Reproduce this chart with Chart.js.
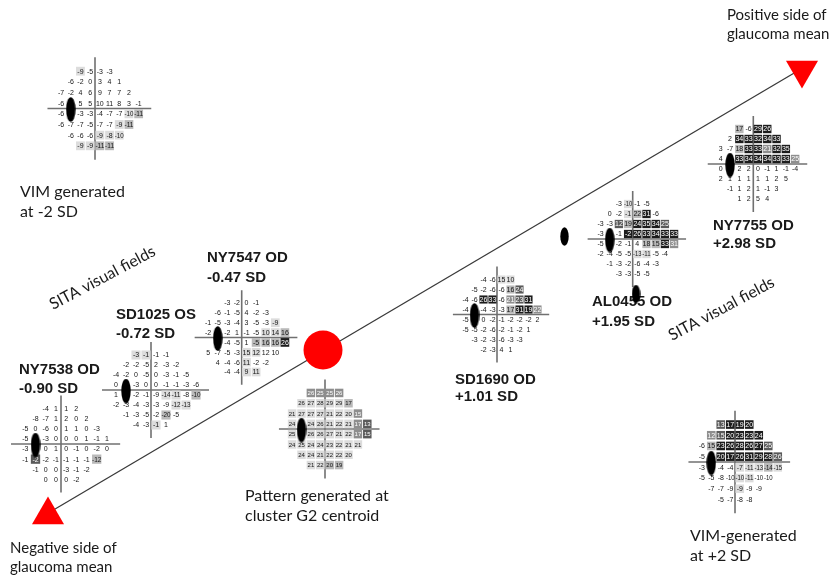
<!DOCTYPE html>
<html>
<head>
<meta charset="utf-8">
<script src="https://cdn.jsdelivr.net/npm/chart.js@4/dist/chart.umd.min.js"></script>
<style>
  html, body { margin: 0; padding: 0; background: #ffffff; }
  canvas { display: block; }
</style>
</head>
<body>
<canvas id="chart" width="832" height="577"></canvas>
<script>
// 24-2 test pattern: first column of each of the 8 rows
const ROW_START = [2, 1, 0, 0, 0, 0, 1, 2];

// Total deviation values (dB) per field; null = blind spot / not shown
const vimMinus2Values = [
  [-9, -5, -3, -3],
  [-6, -2, 0, 3, 4, 1],
  [-7, -2, 4, 6, 9, 7, 7, 2],
  [-6, null, 5, 5, 10, 11, 8, 3, -1],
  [-6, null, -3, -3, -4, -7, -7, -10, -11],
  [-6, -7, -7, -5, -7, -7, -9, -11],
  [-6, -6, -6, -9, -8, -10],
  [-9, -9, -11, -11]
];
const vimMinus2Prob = ['1000', '000000', '00000000', '000000000', '000000012', '00000012', '000111', '1122'];

const ny7538Values = [
  [-4, 1, 1, 2],
  [-8, -7, 1, 2, 0, 2],
  [-5, 0, -6, 0, 1, 1, 0, -3],
  [-5, null, -3, 0, 0, 0, 1, -1, 1],
  [-3, null, 0, 1, 0, -1, 0, -2, 0],
  [-1, -2, -2, -1, -1, -1, -1, -12],
  [-1, 0, 0, -3, -1, -2],
  [0, 0, 0, -2]
];
const ny7538Prob = ['0000', '000000', '00000000', '000000000', '000000000', '04000002', '000000', '0000'];

const sd1025Values = [
  [-3, -1, -1, -1],
  [-2, -2, -5, 2, -3, -2],
  [-4, -2, 0, -5, 0, -3, -1, -5],
  [0, null, -3, 0, 0, -1, -1, -3, -6],
  [1, null, -2, -1, -9, -14, -11, -8, -10],
  [-2, -3, -4, -3, -3, -9, -12, -13],
  [-1, -3, -5, -2, -20, -5],
  [-4, -3, -1, 1]
];
const sd1025Prob = ['1100', '000000', '00000000', '000000000', '000001102', '00000011', '000020', '0010'];

const ny7547Values = [
  [-3, -2, 0, -1],
  [-6, -1, -5, 4, -2, -3],
  [-1, -5, -3, -4, 3, -5, -3, -9],
  [-2, null, -2, 1, -1, -5, 10, 14, 16],
  [null, null, -4, -5, 1, -5, 16, 16, 26],
  [5, -7, -5, -3, 15, 12, 12, 10],
  [4, -4, -6, 11, -2, -2],
  [-4, -4, 9, 11]
];
const ny7547Prob = ['0000', '000000', '00000001', '000000112', '000002225', '00001100', '000100', '0011'];

const g2CentroidValues = [
  [26, 25, 25, 26],
  [26, 27, 28, 29, 29, 17],
  [21, 27, 27, 27, 21, 22, 20, 15],
  [24, null, 24, 26, 21, 22, 21, 17, 13],
  [25, null, 26, 26, 27, 21, 22, 17, 15],
  [24, 25, 24, 24, 23, 22, 21, 21],
  [24, 24, 21, 22, 22, 20],
  [21, 22, 20, 19]
];
const g2CentroidProb = ['3333', '111112', '11111113', '101111134', '101111134', '11111111', '111111', '1122'];

const sd1690Values = [
  [-4, -6, 15, 10],
  [-5, -2, -6, -6, 16, 24],
  [-4, -6, 26, 33, -6, 21, 23, 31],
  [-4, null, -4, -3, -3, 17, 31, 19, 22],
  [-5, null, 0, -2, -1, -2, -2, -2, 2],
  [-5, -5, -2, -6, -2, -1, -2, 1],
  [-3, -2, -3, -6, -3, -3],
  [-2, -3, 4, 1]
];
const sd1690Prob = ['0011', '000024', '00550345', '000002553', '000000000', '00000000', '000000', '0000'];

const al0455Values = [
  [-3, -10, -1, -5],
  [0, -2, -1, 22, 31, -6],
  [-3, -3, 12, 19, 24, 35, 34, 25],
  [-3, null, -1, -2, 26, 33, 34, 33, 33],
  [-5, null, -2, -1, 4, 18, 15, 33, 31],
  [-2, -4, -5, -5, -13, -11, -5, -4],
  [-1, -3, -2, -6, -4, -3],
  [-3, -3, -5, -5]
];
const al0455Prob = ['0100', '001250', '00425554', '000555555', '000002253', '00001100', '000000', '0000'];

const ny7755Values = [
  [17, -6, 29, 26],
  [2, 34, 33, 32, 34, 33],
  [3, -7, 18, 33, 33, 21, 32, 35],
  [4, null, 33, 34, 34, 34, 33, 33, 25],
  [0, null, 2, 2, 0, -1, 1, -1, -4],
  [2, 1, 1, 1, 1, 1, 2, 5],
  [-1, 1, 2, 1, -1, 3],
  [1, 2, 5, 4]
];
const ny7755Prob = ['2055', '055555', '00255355', '005555553', '000000000', '00000000', '000000', '0000'];

const vimPlus2Values = [
  [13, 17, 19, 20],
  [12, 15, 20, 23, 23, 24],
  [-6, 15, 23, 26, 28, 26, 27, 25],
  [-5, null, 20, 17, 26, 31, 29, 28, 26],
  [-3, null, -4, -4, -7, -11, -13, -14, -15],
  [-5, -5, -8, -10, -10, -11, -10, -10],
  [-7, -7, -9, -9, -9, -9],
  [-5, -7, -8, -8]
];
const vimPlus2Prob = ['4555', '345555', '02555554', '005555554', '000011121', '00001100', '000100', '0000'];

// Where each field sits on the sheet (crosshair centre, cell size, digit size in px)
const FIELDS = [
  { values: vimMinus2Values, prob: vimMinus2Prob, ax: 95,    ay: 108.5, w: 9.7,  h: 10.66, fs: 7 },
  { values: ny7538Values,    prob: ny7538Prob,    ax: 61,    ay: 444,   w: 10.2, h: 10.1,  fs: 7 },
  { values: sd1025Values,    prob: sd1025Prob,    ax: 151,   ay: 390,   w: 10,   h: 10,    fs: 7 },
  { values: ny7547Values,    prob: ny7547Prob,    ax: 241.7, ay: 337.5, w: 9.6,  h: 9.86,  fs: 7 },
  { values: g2CentroidValues,prob: g2CentroidProb,ax: 325,   ay: 429,   w: 9.4,  h: 10.3,  fs: 6 },
  { values: sd1690Values,    prob: sd1690Prob,    ax: 497,   ay: 314.5, w: 9,    h: 10,    fs: 7 },
  { values: al0455Values,    prob: al0455Prob,    ax: 632.7, ay: 239,   w: 9.2,  h: 10,    fs: 7 },
  { values: ny7755Values,    prob: ny7755Prob,    ax: 753.3, ay: 164,   w: 9.3,  h: 10,    fs: 7 },
  { values: vimPlus2Values,  prob: vimPlus2Prob,  ax: 735,   ay: 462,   w: 9.5,  h: 10.7,  fs: 7 }
];

// Glaucoma-mean axis: negative end, cluster centroid, positive end
const AXIS_ENDS = [{ x: 50, y: 512 }, { x: 801, y: 69 }];
const END_MARKERS = [{ x: 48, y: 515 }, { x: 802, y: 70 }];
const CENTROID = [{ x: 323, y: 350 }];
// Loose blind-spot markers lying on the sheet
const LOOSE_BLIND_SPOTS = [{ x: 564.5, y: 236.5 }, { x: 636, y: 294 }];

const PROB_FILL = ['rgba(0,0,0,0)', '#dcdcdc', '#b9b9b9', '#8e8e8e', '#5a5a5a', '#1c1c1c'];

const PLAIN = '16px Lato';
const SMALL = '15px Lato';
const BOLD = 'bold 15px "Liberation Sans", Arial, sans-serif';
const CAPTIONS = [
  { t: 'Positive side of', x: 727, y: 20, f: SMALL },
  { t: 'glaucoma mean', x: 727, y: 39, f: SMALL },
  { t: 'VIM generated', x: 20, y: 197, f: PLAIN },
  { t: 'at -2 SD', x: 20, y: 217, f: PLAIN },
  { t: 'SITA visual fields', x: 53, y: 310, f: PLAIN, rot: -28 },
  { t: 'NY7547 OD', x: 207, y: 262, f: BOLD },
  { t: '-0.47 SD', x: 207, y: 282, f: BOLD },
  { t: 'SD1025 OS', x: 116, y: 319, f: BOLD },
  { t: '-0.72 SD', x: 116, y: 338, f: BOLD },
  { t: 'NY7538 OD', x: 19, y: 374, f: BOLD },
  { t: '-0.90 SD', x: 19, y: 393, f: BOLD },
  { t: 'Pattern generated at', x: 245, y: 501, f: PLAIN },
  { t: 'cluster G2 centroid', x: 245, y: 521, f: PLAIN },
  { t: 'Negative side of', x: 10, y: 553, f: SMALL },
  { t: 'glaucoma mean', x: 10, y: 572, f: SMALL },
  { t: 'SD1690 OD', x: 455, y: 384, f: BOLD },
  { t: '+1.01 SD', x: 455, y: 401, f: BOLD },
  { t: 'AL0455 OD', x: 592, y: 306, f: BOLD },
  { t: '+1.95 SD', x: 592, y: 326, f: BOLD },
  { t: 'NY7755 OD', x: 713, y: 230, f: BOLD },
  { t: '+2.98 SD', x: 713, y: 248, f: BOLD },
  { t: 'SITA visual fields', x: 672, y: 341, f: PLAIN, rot: -28 },
  { t: 'VIM-generated', x: 690, y: 541, f: PLAIN },
  { t: 'at +2 SD', x: 690, y: 561, f: PLAIN }
];

function ellipseImage(w, h) {
  const c = document.createElement('canvas');
  c.width = w; c.height = h;
  const g = c.getContext('2d');
  g.fillStyle = '#000000';
  g.beginPath();
  g.ellipse(w / 2, h / 2, w / 2 - 0.3, h / 2 - 0.3, 0, 0, Math.PI * 2);
  g.fill();
  return c;
}
const BLIND_SPOT = ellipseImage(10, 25);
const SMALL_SPOT = ellipseImage(9, 19);

const datasets = [];

// Test-point cells, one dataset per field
FIELDS.forEach((fld) => {
  const pts = [];
  fld.values.forEach((row, r) => {
    row.forEach((v, i) => {
      if (v === null) return;
      const col = ROW_START[r] + i;
      pts.push({
        x: fld.ax + (col - 3.5) * fld.w,
        y: fld.ay + (r - 3.5) * fld.h,
        v: v,
        s: Number(fld.prob[r][i])
      });
    });
  });
  const rad = (fld.w - 0.9) / Math.SQRT2;
  datasets.push({
    data: pts,
    cellGrid: fld,
    pointStyle: 'rect',
    pointRadius: rad,
    pointHoverRadius: rad,
    backgroundColor: (ctx) => PROB_FILL[ctx.raw ? ctx.raw.s : 0],
    borderWidth: 0,
    order: 20
  });
});

// Crosshair of each field
FIELDS.forEach((fld) => {
  const common = { showLine: true, pointRadius: 0, borderColor: '#707070', borderWidth: 1.6, order: 30 };
  datasets.push(Object.assign({ data: [{ x: fld.ax, y: fld.ay - 4.8 * fld.h }, { x: fld.ax, y: fld.ay + 4.8 * fld.h }] }, common));
  datasets.push(Object.assign({ data: [{ x: fld.ax - 4.9 * fld.w, y: fld.ay }, { x: fld.ax + 5.8 * fld.w, y: fld.ay }] }, common));
});

// Blind spots
const blindPts = FIELDS.map((fld) => ({ x: fld.ax - 2.5 * fld.w, y: fld.ay + 1 }));
datasets.push({
  data: blindPts.concat(LOOSE_BLIND_SPOTS),
  pointStyle: blindPts.map(() => BLIND_SPOT).concat(LOOSE_BLIND_SPOTS.map(() => SMALL_SPOT)),
  pointRadius: 10,
  order: 5
});

// Glaucoma-mean axis
datasets.push({
  data: AXIS_ENDS,
  showLine: true,
  pointRadius: 0,
  borderColor: '#3a3a3a',
  borderWidth: 1.3,
  order: 40
});

// End markers (triangles) and centroid (circle)
datasets.push({
  data: END_MARKERS,
  pointStyle: 'triangle',
  rotation: [0, 180],
  pointRadius: 18.5,
  backgroundColor: '#ff0000',
  borderColor: '#ff0000',
  borderWidth: 0,
  order: 2
});
datasets.push({
  data: CENTROID,
  pointStyle: 'circle',
  pointRadius: 19.5,
  backgroundColor: '#ff0000',
  borderColor: '#ff0000',
  borderWidth: 0,
  order: 2
});

const captionPlugin = {
  id: 'captions',
  beforeDatasetsDraw(chart) {
    const ctx = chart.ctx;
    ctx.save();
    ctx.fillStyle = '#1a1a1a';
    ctx.textAlign = 'left';
    ctx.textBaseline = 'alphabetic';
    CAPTIONS.forEach((c) => {
      ctx.font = c.f;
      if (c.rot) {
        ctx.save();
        ctx.translate(c.x, c.y);
        ctx.rotate(c.rot * Math.PI / 180);
        ctx.fillText(c.t, 0, 0);
        ctx.restore();
      } else {
        ctx.fillText(c.t, c.x, c.y);
      }
    });
    ctx.restore();
  }
};

const cellValuePlugin = {
  id: 'cellValues',
  afterDatasetDraw(chart, args) {
    const ds = chart.data.datasets[args.index];
    if (!ds.cellGrid) return;
    const ctx = chart.ctx;
    ctx.save();
    ctx.font = ds.cellGrid.fs + 'px "Liberation Sans", Arial, sans-serif';
    ctx.textAlign = 'center';
    ctx.textBaseline = 'middle';
    args.meta.data.forEach((el, i) => {
      const raw = ds.data[i];
      ctx.fillStyle = raw.s >= 3 ? '#ffffff' : '#161616';
      ctx.fillText(String(raw.v), el.x, el.y + 0.5, ds.cellGrid.w - 0.8);
    });
    ctx.restore();
  }
};

new Chart(document.getElementById('chart'), {
  type: 'scatter',
  data: { datasets: datasets },
  options: {
    responsive: false,
    animation: false,
    devicePixelRatio: 1,
    events: [],
    layout: { padding: 0, autoPadding: false },
    plugins: { legend: { display: false }, tooltip: { enabled: false } },
    scales: {
      x: { type: 'linear', min: 0, max: 832, display: false },
      y: { type: 'linear', min: 0, max: 577, reverse: true, display: false }
    }
  },
  plugins: [captionPlugin, cellValuePlugin]
});
</script>
</body>
</html>
